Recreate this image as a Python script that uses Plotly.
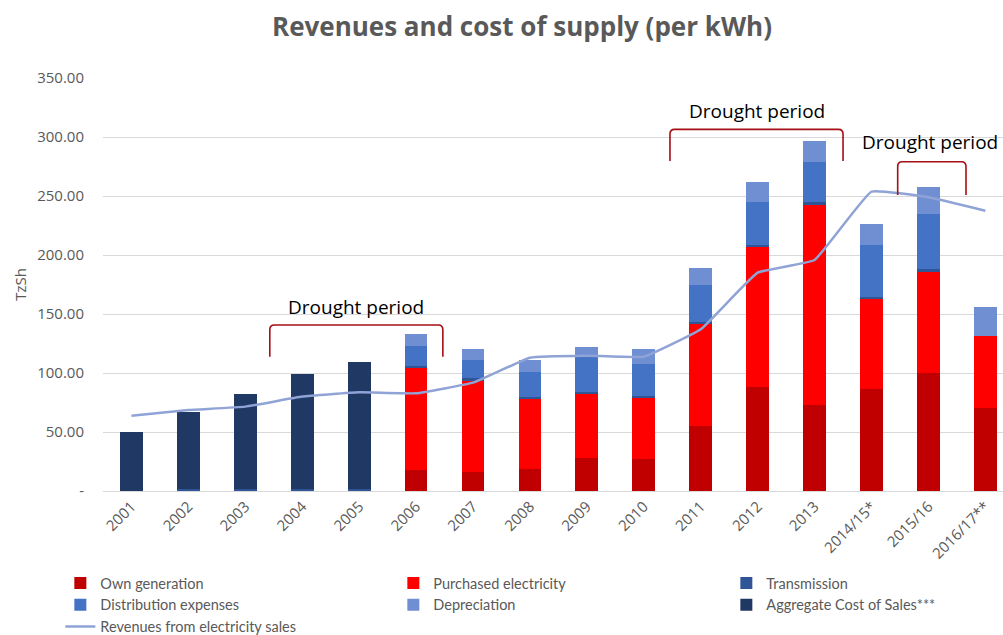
import plotly.graph_objects as go

categories = ["2001", "2002", "2003", "2004", "2005", "2006", "2007", "2008", "2009",
              "2010", "2011", "2012", "2013", "2014/15*", "2015/16", "2016/17**"]
own_generation = [0, 0, 0, 0, 0, 17.8, 15.8, 18.6, 27.7, 27.0, 55.4, 88.4, 72.9, 86.4, 99.7, 70.6]
purchased = [0, 0, 0, 0, 0, 87.0, 78.2, 59.9, 55.1, 52.4, 86.6, 118.6, 170.1, 76.9, 86.7, 60.8]
transmission = [0, 2, 2, 2, 2, 1.5, 1.5, 1.5, 1.5, 1.5, 1.5, 1.5, 1.5, 1.5, 1.5, 0]
distribution = [0, 0, 0, 0, 0, 16.6, 15.5, 20.5, 30.7, 26.7, 31.1, 36.5, 34.5, 43.7, 46.8, 0]
depreciation = [0, 0, 0, 0, 0, 9.9, 9.0, 10.5, 6.7, 12.7, 14.1, 16.6, 17.9, 17.5, 23.2, 24.3]
aggregate = [50, 65, 80, 97, 107, 0, 0, 0, 0, 0, 0, 0, 0, 0, 0, 0]
revenues = [63.8, 68.6, 71.5, 80.0, 83.6, 82.8, 91.8, 113.0, 114.7, 113.8, 137.0, 185.0,
            195.8, 253.7, 248.9, 237.5]

y_ticks = [0, 50, 100, 150, 200, 250, 300, 350]
y_ticktext = ["-", "50.00", "100.00", "150.00", "200.00", "250.00", "300.00", "350.00"]

# drought brackets: (x_left, x_right, y_top, y_bottom, label_x, label_y)
brackets = [
    (2.43, 5.47, 140.7, 113.8, 3.95, 156),
    (9.46, 12.5, 306.5, 279.7, 10.98, 322),
    (13.46, 14.66, 279.0, 250.8, 14.02, 295.5),
]

FONT = "Open Sans"
GRAY = "#595959"

fig = go.Figure()
series = [
    ("Own generation", own_generation, "#C00000"),
    ("Purchased electricity", purchased, "#FF0000"),
    ("Transmission", transmission, "#2F5597"),
    ("Distribution expenses", distribution, "#4472C4"),
    ("Depreciation", depreciation, "#6F8FD2"),
    ("Aggregate Cost of Sales***", aggregate, "#1F3864"),
]
for name, vals, col in series:
    fig.add_trace(go.Bar(x=categories, y=vals, name=name, marker=dict(color=col, line=dict(width=0))))

fig.add_trace(go.Scatter(x=categories, y=revenues, name="Revenues from electricity sales",
                         mode="lines", line=dict(color="#8FA3D6", width=2.5, shape="spline", smoothing=0.3)))

shapes = []
annotations = []
rx, ry = 0.08, 4.0
for x0, x1, yt, yb, lx, ly in brackets:
    path = (f"M {x0},{yb} L {x0},{yt-ry} Q {x0},{yt} {x0+rx},{yt} "
            f"L {x1-rx},{yt} Q {x1},{yt} {x1},{yt-ry} L {x1},{yb}")
    shapes.append(dict(type="path", path=path, xref="x", yref="y",
                       line=dict(color="#A50F15", width=1.6)))
    annotations.append(dict(x=lx, y=ly, xref="x", yref="y", text="Drought period",
                            showarrow=False, font=dict(family=FONT, size=19, color="#000000")))

fig.update_layout(
    width=1003, height=635,
    barmode="stack", bargap=0.6,
    paper_bgcolor="white", plot_bgcolor="white",
    margin=dict(l=103, r=0, t=78, b=144, autoexpand=False),
    title=dict(text="<b>Revenues and cost of supply (per kWh)</b>", x=0.5204, xref="container",
               xanchor="center", y=0.9575, yanchor="middle",
               font=dict(family=FONT, size=26, color=GRAY)),
    font=dict(family=FONT, color=GRAY),
    shapes=shapes,
    annotations=annotations,
    legend=dict(orientation="h", x=-0.0474, xanchor="left",
                y=-0.184, yanchor="top",
                entrywidth=288, entrywidthmode="pixels", traceorder="normal",
                font=dict(family="Lato", size=14.5, color=GRAY), itemwidth=30,
                tracegroupgap=0),
)
fig.update_xaxes(range=[-0.5, 15.31], tickangle=-45, showgrid=False,
                 showline=True, linecolor="#D9D9D9", linewidth=1,
                 tickfont=dict(family=FONT, size=15, color=GRAY), ticks="")
fig.update_yaxes(range=[0, 350], tickvals=y_ticks, ticktext=y_ticktext,
                 showgrid=True, gridcolor="#D9D9D9", gridwidth=1, zeroline=False,
                 tickfont=dict(family=FONT, size=15, color=GRAY), ticks="",
                 ticklabelstandoff=18,
                 title=dict(text="TzSh", font=dict(family=FONT, size=15, color=GRAY), standoff=6))

fig.write_html("out.html", config={"displayModeBar": False},
               post_script="document.body.style.margin='0';document.body.style.overflow='hidden';")
